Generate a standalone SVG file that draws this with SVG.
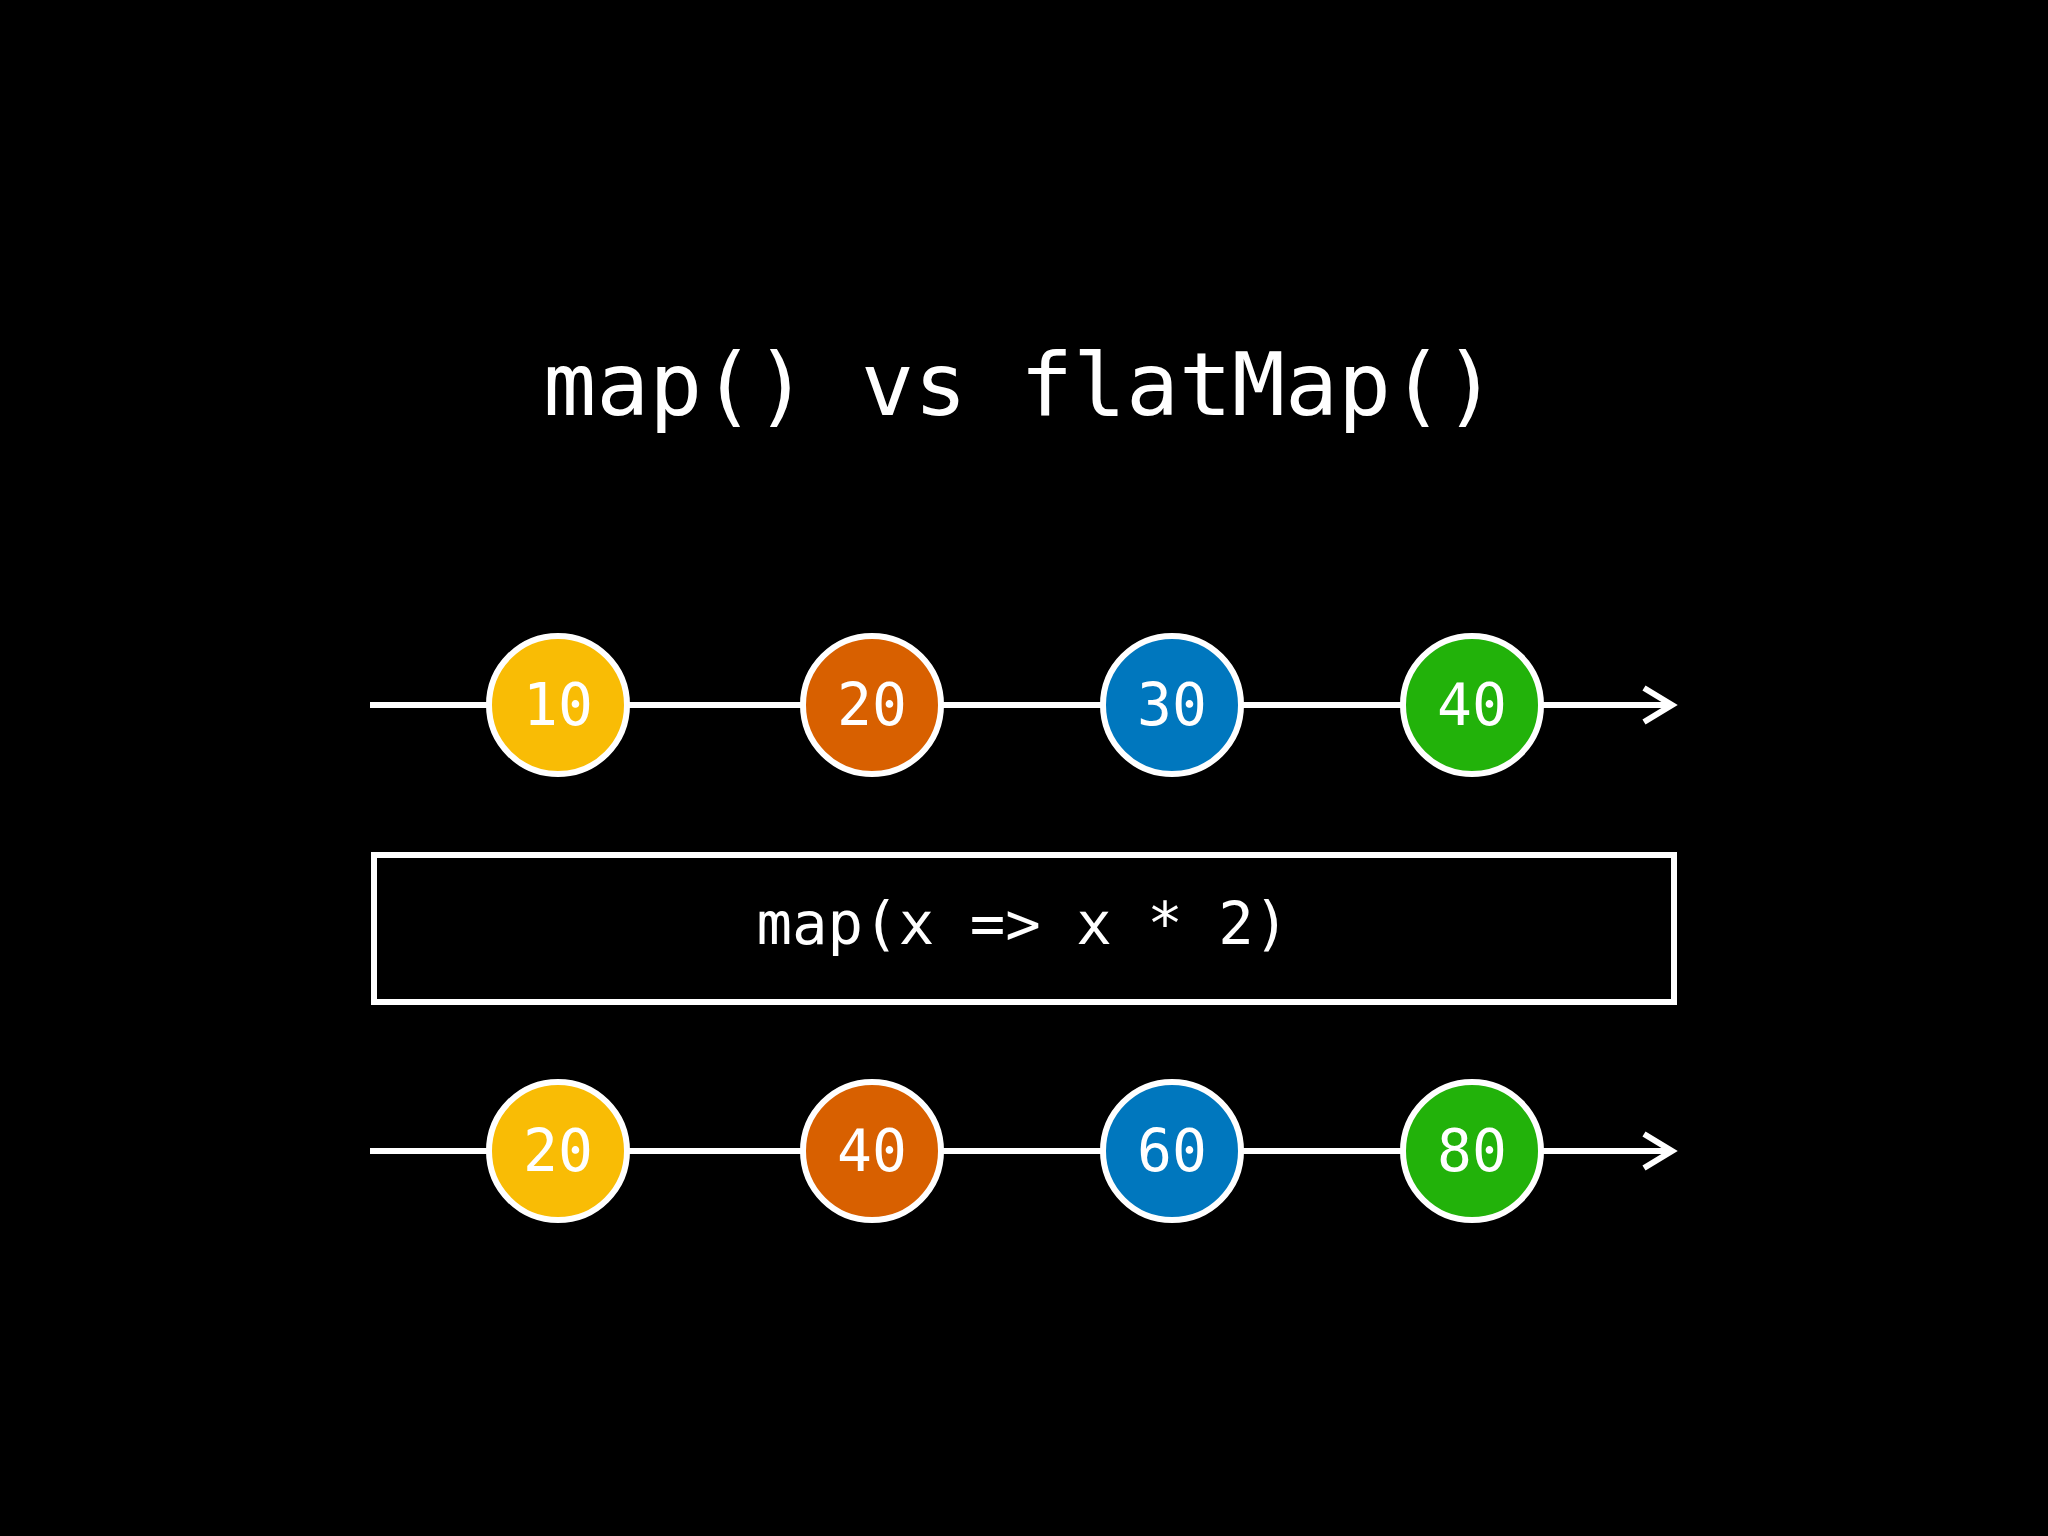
<svg xmlns="http://www.w3.org/2000/svg" width="2048" height="1536" viewBox="0 0 2048 1536">
<style>
.ln{stroke:#fff;stroke-width:6;fill:none}
.c{stroke:#fff;stroke-width:6}
.t{font-family:"DejaVu Sans Mono",monospace;fill:#fff;text-anchor:middle}
.n{font-size:58px}
</style>
<rect width="2048" height="1536" fill="#000"/>
<text class="t" x="1020" y="415" font-size="88">map() vs flatMap()</text>
<g id="connectors">
<path class="ln" d="M370 705H1672M1644 688L1672 705L1644 722"/>
<path class="ln" d="M370 1151H1672M1644 1134L1672 1151L1644 1168"/>
</g>
<g id="in10"><circle class="c" cx="558" cy="705" r="69" fill="#F9BC05"/><text class="t n" x="558" y="725">10</text></g>
<g id="in20"><circle class="c" cx="872" cy="705" r="69" fill="#D86000"/><text class="t n" x="872" y="725">20</text></g>
<g id="in30"><circle class="c" cx="1172" cy="705" r="69" fill="#0077BE"/><text class="t n" x="1172" y="725">30</text></g>
<g id="in40"><circle class="c" cx="1472" cy="705" r="69" fill="#22B20A"/><text class="t n" x="1472" y="725">40</text></g>
<g id="op"><rect x="374" y="855" width="1300" height="147" fill="none" stroke="#fff" stroke-width="6"/><text class="t" x="1023" y="944" font-size="59">map(x =&gt; x * 2)</text></g>
<g id="out20"><circle class="c" cx="558" cy="1151" r="69" fill="#F9BC05"/><text class="t n" x="558" y="1171">20</text></g>
<g id="out40"><circle class="c" cx="872" cy="1151" r="69" fill="#D86000"/><text class="t n" x="872" y="1171">40</text></g>
<g id="out60"><circle class="c" cx="1172" cy="1151" r="69" fill="#0077BE"/><text class="t n" x="1172" y="1171">60</text></g>
<g id="out80"><circle class="c" cx="1472" cy="1151" r="69" fill="#22B20A"/><text class="t n" x="1472" y="1171">80</text></g>
</svg>
